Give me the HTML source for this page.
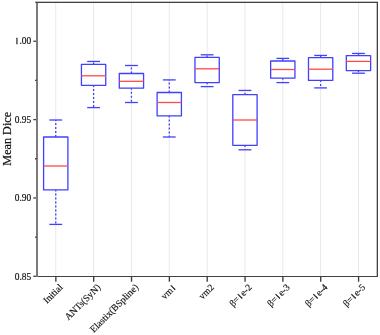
<!DOCTYPE html>
<html><head><meta charset="utf-8"><style>
html,body{margin:0;padding:0;background:#fff;}
body{width:380px;height:335px;overflow:hidden;}
svg{display:block;will-change:transform;}
text{font-family:"Liberation Serif",serif;fill:#111;stroke:#111;stroke-width:0.2px;}
.tl{font-size:10.4px;}
.xl{font-size:9.6px;stroke-width:0.15px;}
.yl{font-size:12.2px;}
.one{font-family:"Liberation Sans",sans-serif;font-size:0.9em;stroke-width:0.3px;}
</style></head><body>
<svg width="380" height="335" viewBox="0 0 380 335">
<line x1="55.75" y1="2.0" x2="55.75" y2="276.3" stroke="#e9e9e9" stroke-width="1"/>
<line x1="93.59" y1="2.0" x2="93.59" y2="276.3" stroke="#e9e9e9" stroke-width="1"/>
<line x1="131.43" y1="2.0" x2="131.43" y2="276.3" stroke="#e9e9e9" stroke-width="1"/>
<line x1="169.27" y1="2.0" x2="169.27" y2="276.3" stroke="#e9e9e9" stroke-width="1"/>
<line x1="207.11" y1="2.0" x2="207.11" y2="276.3" stroke="#e9e9e9" stroke-width="1"/>
<line x1="244.95" y1="2.0" x2="244.95" y2="276.3" stroke="#e9e9e9" stroke-width="1"/>
<line x1="282.79" y1="2.0" x2="282.79" y2="276.3" stroke="#e9e9e9" stroke-width="1"/>
<line x1="320.63" y1="2.0" x2="320.63" y2="276.3" stroke="#e9e9e9" stroke-width="1"/>
<line x1="358.47" y1="2.0" x2="358.47" y2="276.3" stroke="#e9e9e9" stroke-width="1"/>
<line x1="55.75" y1="137.0" x2="55.75" y2="120.0" stroke="#4040ff" stroke-width="1.3" stroke-dasharray="2 2"/>
<line x1="55.75" y1="189.9" x2="55.75" y2="224.4" stroke="#4040ff" stroke-width="1.3" stroke-dasharray="2 2" stroke-dashoffset="0.4"/>
<line x1="49.35" y1="120.0" x2="62.15" y2="120.0" stroke="#4040ff" stroke-width="1.3"/>
<line x1="49.35" y1="224.4" x2="62.15" y2="224.4" stroke="#4040ff" stroke-width="1.3"/>
<rect x="43.6" y="137.0" width="24.3" height="52.90" fill="#fff" stroke="#4040ff" stroke-width="1.3" stroke-linejoin="round"/>
<line x1="43.6" y1="166.0" x2="67.9" y2="166.0" stroke="#ff4a4a" stroke-width="1.3"/>
<line x1="93.59" y1="64.4" x2="93.59" y2="61.45" stroke="#4040ff" stroke-width="1.3" stroke-dasharray="2 2"/>
<line x1="93.59" y1="85.35" x2="93.59" y2="107.6" stroke="#4040ff" stroke-width="1.3" stroke-dasharray="2 2" stroke-dashoffset="0.4"/>
<line x1="87.19" y1="61.45" x2="99.99000000000001" y2="61.45" stroke="#4040ff" stroke-width="1.3"/>
<line x1="87.19" y1="107.6" x2="99.99000000000001" y2="107.6" stroke="#4040ff" stroke-width="1.3"/>
<rect x="81.44" y="64.4" width="24.3" height="20.95" fill="#fff" stroke="#4040ff" stroke-width="1.3" stroke-linejoin="round"/>
<line x1="81.44" y1="75.8" x2="105.74000000000001" y2="75.8" stroke="#ff4a4a" stroke-width="1.3"/>
<line x1="131.43" y1="73.5" x2="131.43" y2="65.5" stroke="#4040ff" stroke-width="1.3" stroke-dasharray="2 2"/>
<line x1="131.43" y1="88.2" x2="131.43" y2="102.5" stroke="#4040ff" stroke-width="1.3" stroke-dasharray="2 2" stroke-dashoffset="0.4"/>
<line x1="125.03" y1="65.5" x2="137.83" y2="65.5" stroke="#4040ff" stroke-width="1.3"/>
<line x1="125.03" y1="102.5" x2="137.83" y2="102.5" stroke="#4040ff" stroke-width="1.3"/>
<rect x="119.28" y="73.5" width="24.3" height="14.70" fill="#fff" stroke="#4040ff" stroke-width="1.3" stroke-linejoin="round"/>
<line x1="119.28" y1="81.3" x2="143.58" y2="81.3" stroke="#ff4a4a" stroke-width="1.3"/>
<line x1="169.27" y1="92.5" x2="169.27" y2="79.9" stroke="#4040ff" stroke-width="1.3" stroke-dasharray="2 2"/>
<line x1="169.27" y1="115.8" x2="169.27" y2="137.0" stroke="#4040ff" stroke-width="1.3" stroke-dasharray="2 2" stroke-dashoffset="0.4"/>
<line x1="162.87" y1="79.9" x2="175.67000000000002" y2="79.9" stroke="#4040ff" stroke-width="1.3"/>
<line x1="162.87" y1="137.0" x2="175.67000000000002" y2="137.0" stroke="#4040ff" stroke-width="1.3"/>
<rect x="157.12" y="92.5" width="24.3" height="23.30" fill="#fff" stroke="#4040ff" stroke-width="1.3" stroke-linejoin="round"/>
<line x1="157.12" y1="102.5" x2="181.42000000000002" y2="102.5" stroke="#ff4a4a" stroke-width="1.3"/>
<line x1="207.11" y1="57.4" x2="207.11" y2="54.8" stroke="#4040ff" stroke-width="1.3" stroke-dasharray="2 2"/>
<line x1="207.11" y1="82.55" x2="207.11" y2="86.6" stroke="#4040ff" stroke-width="1.3" stroke-dasharray="2 2" stroke-dashoffset="0.4"/>
<line x1="200.71" y1="54.8" x2="213.51000000000002" y2="54.8" stroke="#4040ff" stroke-width="1.3"/>
<line x1="200.71" y1="86.6" x2="213.51000000000002" y2="86.6" stroke="#4040ff" stroke-width="1.3"/>
<rect x="194.96" y="57.4" width="24.3" height="25.15" fill="#fff" stroke="#4040ff" stroke-width="1.3" stroke-linejoin="round"/>
<line x1="194.96" y1="68.8" x2="219.26000000000002" y2="68.8" stroke="#ff4a4a" stroke-width="1.3"/>
<line x1="244.95" y1="94.7" x2="244.95" y2="90.45" stroke="#4040ff" stroke-width="1.3" stroke-dasharray="2 2"/>
<line x1="244.95" y1="145.3" x2="244.95" y2="149.8" stroke="#4040ff" stroke-width="1.3" stroke-dasharray="2 2" stroke-dashoffset="0.4"/>
<line x1="238.54999999999998" y1="90.45" x2="251.35" y2="90.45" stroke="#4040ff" stroke-width="1.3"/>
<line x1="238.54999999999998" y1="149.8" x2="251.35" y2="149.8" stroke="#4040ff" stroke-width="1.3"/>
<rect x="232.79999999999998" y="94.7" width="24.3" height="50.60" fill="#fff" stroke="#4040ff" stroke-width="1.3" stroke-linejoin="round"/>
<line x1="232.79999999999998" y1="120.0" x2="257.09999999999997" y2="120.0" stroke="#ff4a4a" stroke-width="1.3"/>
<line x1="282.79" y1="61.0" x2="282.79" y2="58.4" stroke="#4040ff" stroke-width="1.3" stroke-dasharray="2 2"/>
<line x1="282.79" y1="78.2" x2="282.79" y2="82.6" stroke="#4040ff" stroke-width="1.3" stroke-dasharray="2 2" stroke-dashoffset="0.4"/>
<line x1="276.39000000000004" y1="58.4" x2="289.19" y2="58.4" stroke="#4040ff" stroke-width="1.3"/>
<line x1="276.39000000000004" y1="82.6" x2="289.19" y2="82.6" stroke="#4040ff" stroke-width="1.3"/>
<rect x="270.64000000000004" y="61.0" width="24.3" height="17.20" fill="#fff" stroke="#4040ff" stroke-width="1.3" stroke-linejoin="round"/>
<line x1="270.64000000000004" y1="69.5" x2="294.94" y2="69.5" stroke="#ff4a4a" stroke-width="1.3"/>
<line x1="320.63" y1="57.7" x2="320.63" y2="55.45" stroke="#4040ff" stroke-width="1.3" stroke-dasharray="2 2"/>
<line x1="320.63" y1="80.4" x2="320.63" y2="87.9" stroke="#4040ff" stroke-width="1.3" stroke-dasharray="2 2" stroke-dashoffset="0.4"/>
<line x1="314.23" y1="55.45" x2="327.03" y2="55.45" stroke="#4040ff" stroke-width="1.3"/>
<line x1="314.23" y1="87.9" x2="327.03" y2="87.9" stroke="#4040ff" stroke-width="1.3"/>
<rect x="308.48" y="57.7" width="24.3" height="22.70" fill="#fff" stroke="#4040ff" stroke-width="1.3" stroke-linejoin="round"/>
<line x1="308.48" y1="69.2" x2="332.78" y2="69.2" stroke="#ff4a4a" stroke-width="1.3"/>
<line x1="358.47" y1="55.6" x2="358.47" y2="53.45" stroke="#4040ff" stroke-width="1.3" stroke-dasharray="2 2"/>
<line x1="358.47" y1="70.6" x2="358.47" y2="73.2" stroke="#4040ff" stroke-width="1.3" stroke-dasharray="2 2" stroke-dashoffset="0.4"/>
<line x1="352.07000000000005" y1="53.45" x2="364.87" y2="53.45" stroke="#4040ff" stroke-width="1.3"/>
<line x1="352.07000000000005" y1="73.2" x2="364.87" y2="73.2" stroke="#4040ff" stroke-width="1.3"/>
<rect x="346.32000000000005" y="55.6" width="24.3" height="15.00" fill="#fff" stroke="#4040ff" stroke-width="1.3" stroke-linejoin="round"/>
<line x1="346.32000000000005" y1="61.4" x2="370.62" y2="61.4" stroke="#ff4a4a" stroke-width="1.3"/>
<line x1="35.3" y1="1.5" x2="378" y2="1.5" stroke="#c4c4c4" stroke-width="1"/>
<line x1="376.5" y1="2" x2="376.5" y2="276" stroke="#c4c4c4" stroke-width="1"/>
<line x1="35.3" y1="2.5" x2="378" y2="2.5" stroke="#424242" stroke-width="1"/>
<line x1="377.5" y1="2" x2="377.5" y2="277" stroke="#424242" stroke-width="1"/>
<line x1="36" y1="276.5" x2="378" y2="276.5" stroke="#424242" stroke-width="1.1"/>
<line x1="37" y1="3" x2="37" y2="276.90000000000003" stroke="#7a7a7a" stroke-width="2"/>
<line x1="33.3" y1="41.25" x2="36" y2="41.25" stroke="#424242" stroke-width="1.3"/>
<text transform="translate(31.20,44.25) scale(0.905,1)" x="-1.13" y="0" text-anchor="end" class="tl"><tspan dx="1.13" class="one">I</tspan><tspan dx="1.47">.00</tspan></text>
<line x1="33.3" y1="119.60" x2="36" y2="119.60" stroke="#424242" stroke-width="1.3"/>
<text transform="translate(31.20,122.50) scale(0.905,1)" x="-0.00" y="0" text-anchor="end" class="tl">0.95</text>
<line x1="33.3" y1="197.95" x2="36" y2="197.95" stroke="#424242" stroke-width="1.3"/>
<text transform="translate(31.20,200.75) scale(0.905,1)" x="-0.00" y="0" text-anchor="end" class="tl">0.90</text>
<line x1="33.3" y1="276.30" x2="36" y2="276.30" stroke="#424242" stroke-width="1.3"/>
<text transform="translate(31.20,279.70) scale(0.905,1)" x="-0.00" y="0" text-anchor="end" class="tl">0.85</text>
<line x1="35" y1="237.12" x2="36.6" y2="237.12" stroke="#424242" stroke-width="1.3"/>
<line x1="35" y1="158.77" x2="36.6" y2="158.77" stroke="#424242" stroke-width="1.3"/>
<line x1="35" y1="80.43" x2="36.6" y2="80.43" stroke="#424242" stroke-width="1.3"/>
<line x1="55.85" y1="276.3" x2="55.85" y2="281.7" stroke="#3a3a3a" stroke-width="1.35"/>
<text transform="translate(57.35,281.9) rotate(-45)" x="-0.00" y="8.4" text-anchor="end" class="xl">Initial</text>
<line x1="93.69" y1="276.3" x2="93.69" y2="281.7" stroke="#3a3a3a" stroke-width="1.35"/>
<text transform="translate(95.19,281.9) rotate(-45)" x="-0.00" y="8.4" text-anchor="end" class="xl">ANTs(SyN)</text>
<line x1="131.53" y1="276.3" x2="131.53" y2="281.7" stroke="#3a3a3a" stroke-width="1.35"/>
<text transform="translate(133.03,281.9) rotate(-45)" x="-0.00" y="8.4" text-anchor="end" class="xl">Elastix(BSpline)</text>
<line x1="169.37" y1="276.3" x2="169.37" y2="281.7" stroke="#3a3a3a" stroke-width="1.35"/>
<text transform="translate(170.87,281.9) rotate(-45)" x="-1.35" y="8.4" text-anchor="end" class="xl">vm<tspan dx="1.05" class="one">I</tspan></text>
<line x1="207.21" y1="276.3" x2="207.21" y2="281.7" stroke="#3a3a3a" stroke-width="1.35"/>
<text transform="translate(208.71,281.9) rotate(-45)" x="-0.00" y="8.4" text-anchor="end" class="xl">vm2</text>
<line x1="245.04999999999998" y1="276.3" x2="245.04999999999998" y2="281.7" stroke="#3a3a3a" stroke-width="1.35"/>
<text transform="translate(246.54999999999998,281.9) rotate(-45)" x="-0.00" y="8.4" text-anchor="end" class="xl">β=<tspan dx="1.05" class="one">I</tspan><tspan dx="1.35">e-2</tspan></text>
<line x1="282.89000000000004" y1="276.3" x2="282.89000000000004" y2="281.7" stroke="#3a3a3a" stroke-width="1.35"/>
<text transform="translate(284.39000000000004,281.9) rotate(-45)" x="-0.00" y="8.4" text-anchor="end" class="xl">β=<tspan dx="1.05" class="one">I</tspan><tspan dx="1.35">e-3</tspan></text>
<line x1="320.73" y1="276.3" x2="320.73" y2="281.7" stroke="#3a3a3a" stroke-width="1.35"/>
<text transform="translate(322.23,281.9) rotate(-45)" x="-0.00" y="8.4" text-anchor="end" class="xl">β=<tspan dx="1.05" class="one">I</tspan><tspan dx="1.35">e-4</tspan></text>
<line x1="358.57000000000005" y1="276.3" x2="358.57000000000005" y2="281.7" stroke="#3a3a3a" stroke-width="1.35"/>
<text transform="translate(360.07000000000005,281.9) rotate(-45)" x="-0.00" y="8.4" text-anchor="end" class="xl">β=<tspan dx="1.05" class="one">I</tspan><tspan dx="1.35">e-5</tspan></text>
<text transform="translate(10.5,138.8) rotate(-90)" x="0" y="0" text-anchor="middle" class="yl">Mean Dice</text>
</svg>
</body></html>
